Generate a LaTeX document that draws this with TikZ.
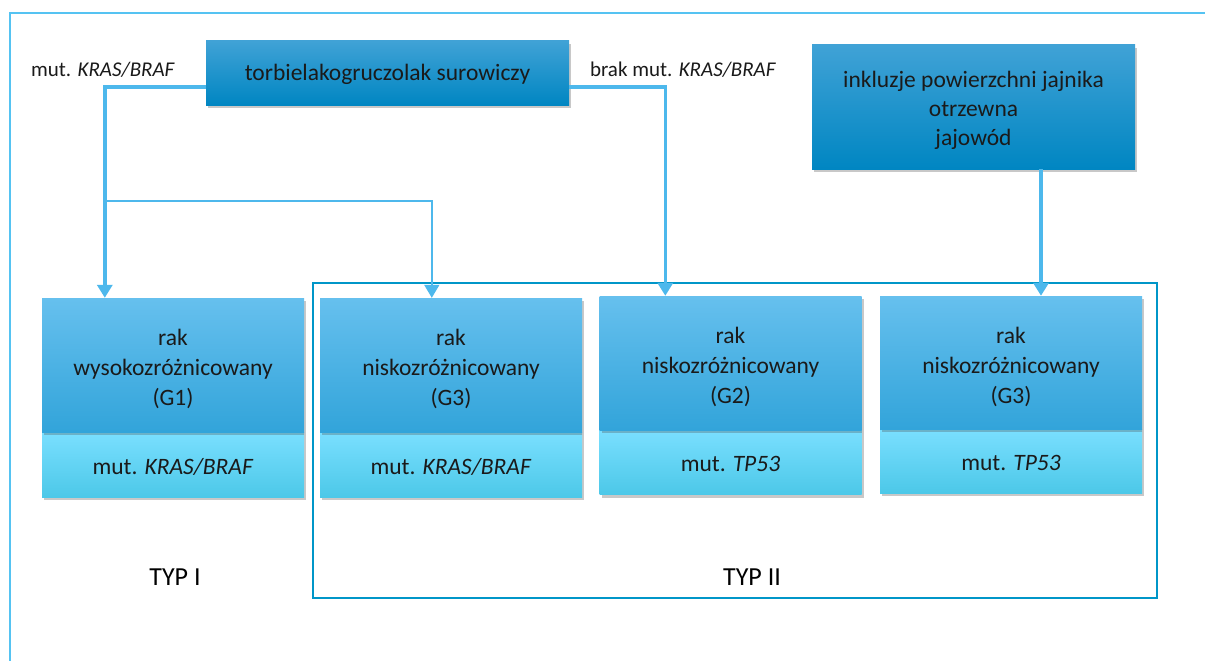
\documentclass[tikz,border=0pt]{standalone}
\usepackage{fontspec}
\setmainfont{Carlito}
\usetikzlibrary{shadows,arrows.meta,calc}
\definecolor{conn}{HTML}{4DB8EC}
\definecolor{frameA}{HTML}{55C3F2}
\definecolor{frameB}{HTML}{0096C8}
\definecolor{tbA}{HTML}{40A2D6}
\definecolor{tbB}{HTML}{0098D8}
\definecolor{tbC}{HTML}{0086C2}
\definecolor{upA}{HTML}{66C0EE}
\definecolor{upB}{HTML}{45B5EA}
\definecolor{upC}{HTML}{32A4DA}
\definecolor{loA}{HTML}{7ADFFF}
\definecolor{loB}{HTML}{62DAFF}
\definecolor{loC}{HTML}{4CC8E8}
\definecolor{txt}{HTML}{1A1A1A}
\tikzset{
  shad/.style={drop shadow={shadow xshift=2pt,shadow yshift=-3pt,opacity=0.3,fill=black!70}},
  darkbox/.style={shad,inner sep=0pt,top color=tbA,middle color=tbB,bottom color=tbC},
  upbox/.style={shad,inner sep=0pt,minimum width=262pt,minimum height=134pt,
     top color=upA,middle color=upB,bottom color=upC},
  lowbox/.style={shad,inner sep=0pt,minimum width=262pt,minimum height=65pt,
     top color=loA,middle color=loB,bottom color=loC},
  boxtxt/.style={text=txt,align=center,inner sep=0pt,font=\fontsize{23.5}{30}\selectfont},
  inctxt/.style={text=txt,align=center,inner sep=0pt,font=\fontsize{23.5}{29}\selectfont},
  thickconn/.style={conn,line width=3.5pt,-{Triangle[width=15pt,length=13pt]}},
  thinconn/.style={conn,line width=1.6pt,-{Triangle[width=15pt,length=13pt]}},
  lbl/.style={text=txt,font=\fontsize{21}{25}\selectfont,inner sep=0pt},
  typlbl/.style={text=black,font=\fontsize{26}{30}\selectfont,inner sep=0pt}
}
\begin{document}
\begin{tikzpicture}[x=1pt,y=-1pt]
\useasboundingbox (0,0) rectangle (1205,661);
\fill[white] (0,0) rectangle (1205,661);
% outer frame
\draw[frameA,line width=1.6pt] (10,670) -- (10,13) -- (1215,13);
% TYP II frame
\draw[frameB,line width=2.2pt] (313,283) rectangle (1157,598);
% top boxes
\node[darkbox,minimum width=363pt,minimum height=64pt] (top) at (387.5,73) {};
\node[boxtxt] (topt) at ([yshift=-1pt]top.center) {torbielakogruczolak surowiczy};
\node[darkbox,minimum width=323pt,minimum height=124pt] (inc) at (973.5,107) {};
\node[inctxt] (inct) at ([yshift=-3pt]inc.center) {inkluzje powierzchni jajnika\\otrzewna\\jajowód};
% labels
\node[lbl] (lm) at (103,70) {mut. \textit{KRAS/BRAF}};
\node[lbl] (lb) at (683,70) {brak mut. \textit{KRAS/BRAF}};
% bottom boxes
\node[lowbox] (l1) at (173,464.5) {};
\node[upbox] (b1) at (173,365) {};
\node[lowbox] (l2) at (451,464.5) {};
\node[upbox] (b2) at (451,365) {};
\node[lowbox] (l3) at (730.5,462) {};
\node[upbox] (b3) at (730.5,363) {};
\node[lowbox,minimum height=64pt] (l4) at (1011,461) {};
\node[upbox,minimum height=133pt] (b4) at (1011,362.5) {};
\node[boxtxt] (b1t) at ([yshift=-4pt]b1.center) {rak\\wysokozróżnicowany\\(G1)};
\node[boxtxt] (b2t) at ([yshift=-4pt]b2.center) {rak\\niskozróżnicowany\\(G3)};
\node[boxtxt] (b3t) at ([yshift=-4pt]b3.center) {rak\\niskozróżnicowany\\(G2)};
\node[boxtxt] (b4t) at ([yshift=-4pt]b4.center) {rak\\niskozróżnicowany\\(G3)};
\node[boxtxt] (l1t) at ([yshift=-2pt]l1.center) {mut. \textit{KRAS/BRAF}};
\node[boxtxt] (l2t) at ([yshift=-2pt]l2.center) {mut. \textit{KRAS/BRAF}};
\node[boxtxt] (l3t) at ([yshift=-2pt]l3.center) {mut. \textit{TP53}};
\node[boxtxt] (l4t) at ([yshift=-2pt]l4.center) {mut. \textit{TP53}};
% type labels
\node[typlbl] (t1) at (175,577) {TYP I};
\node[typlbl] (t2) at (752,577) {TYP II};
% connectors
\coordinate (br) at (105,201);
\draw[thickconn] ([yshift=-14pt]top.west) -| ([xshift=63pt]b1.north west);
\draw[thinconn] (br) -| ([xshift=112pt]b2.north west);
\draw[thickconn] ([yshift=-14pt]top.east) -| ([xshift=66pt]b3.north west);
\draw[thickconn] ([xshift=67.5pt]inc.south) -- ([xshift=30pt]b4.north);
\end{tikzpicture}
\end{document}
